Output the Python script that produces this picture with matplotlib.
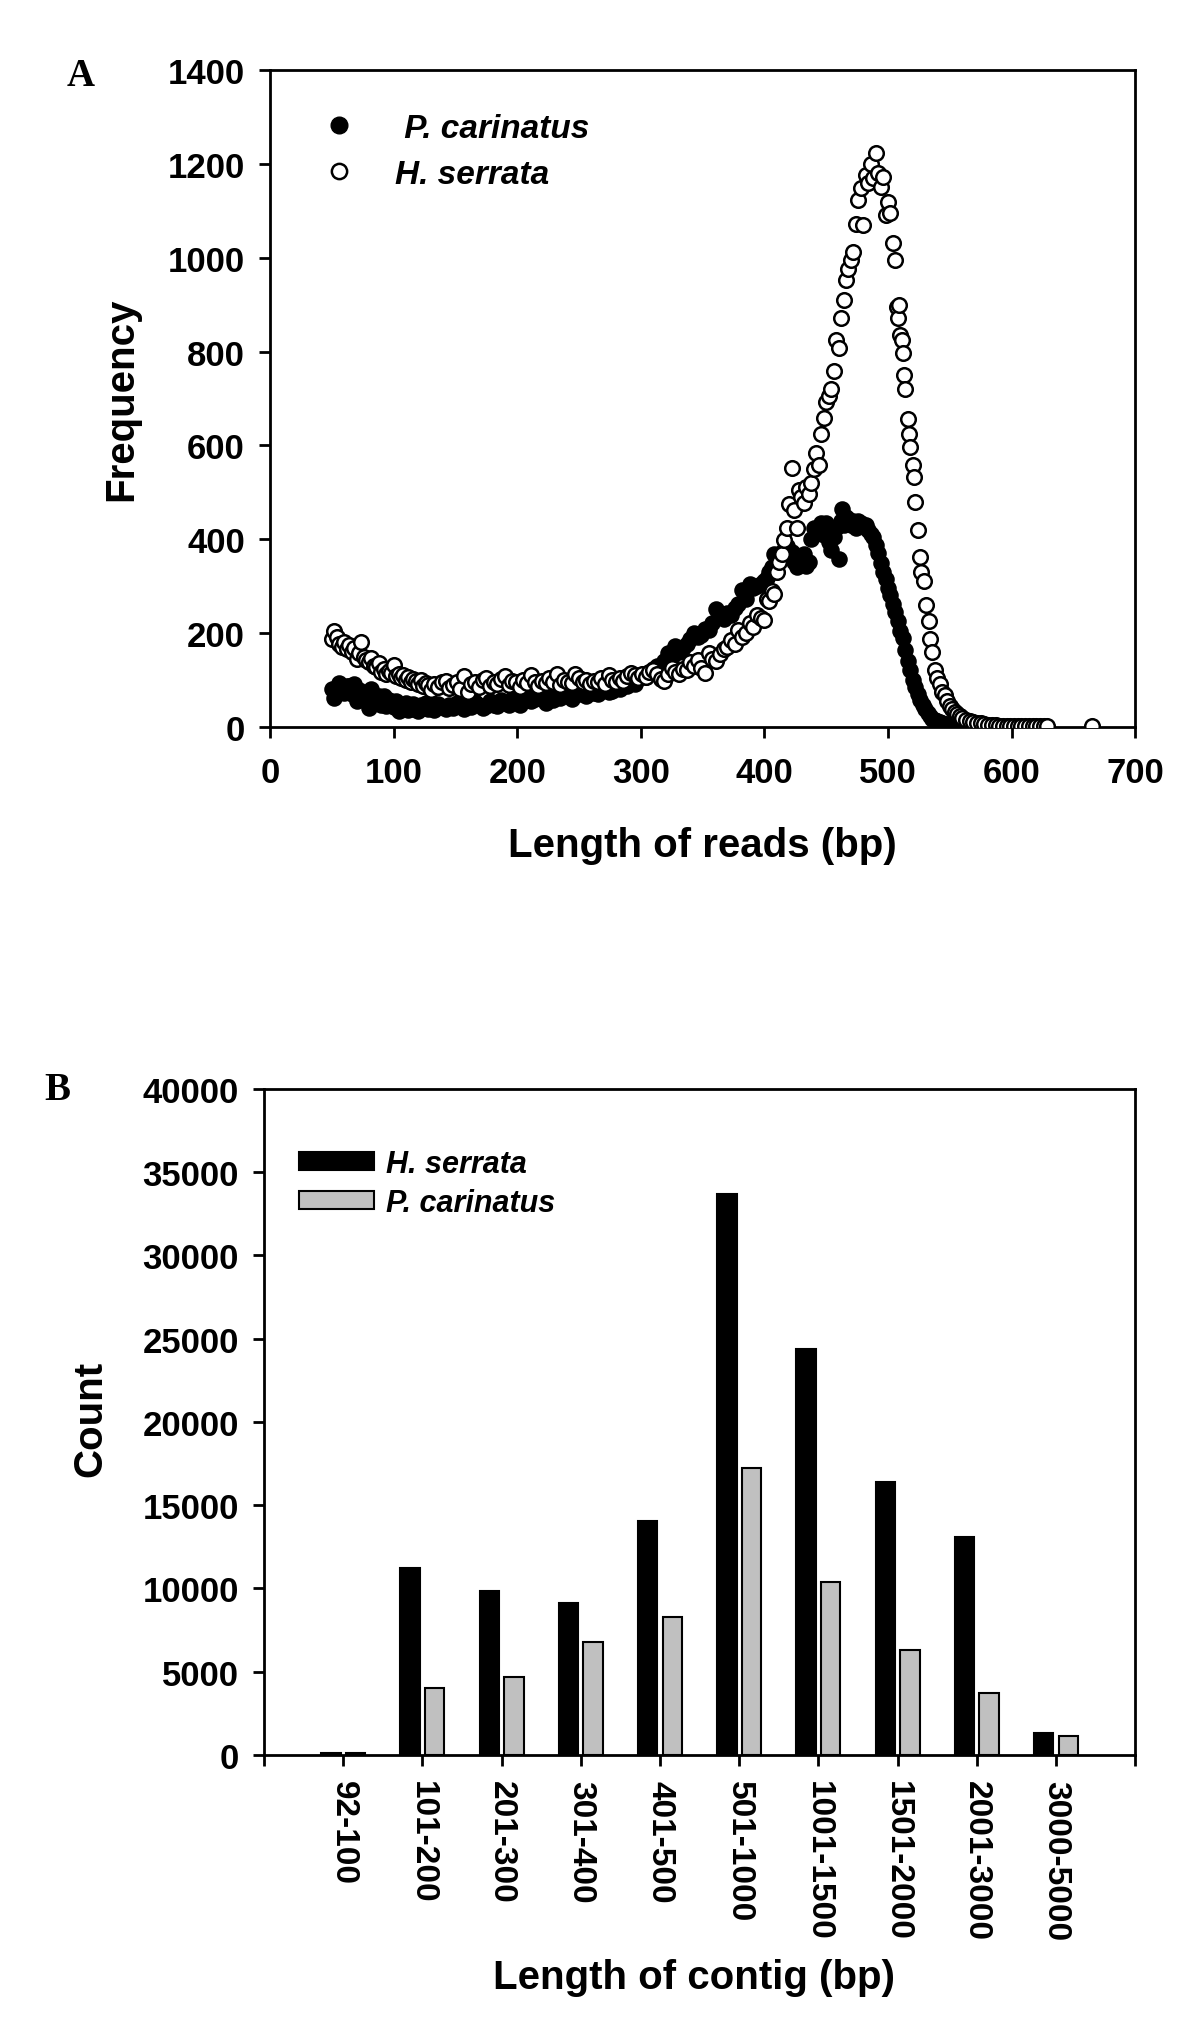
import matplotlib
matplotlib.use('Agg')
import matplotlib.pyplot as plt
from matplotlib.lines import Line2D
from matplotlib.patches import Patch

plt.rcParams['font.family'] = ['Liberation Sans', 'DejaVu Sans']
plt.rcParams['font.weight'] = 'bold'

# ---- panel A : read length distribution ----
# H. serrata (open circles)
len_hs = [50, 52, 54, 56, 58, 60, 62, 64, 66, 68, 70, 72, 74, 76, 78, 80, 82, 84, 86, 88,
          90, 92, 94, 96, 98, 100, 102, 104, 106, 108, 110, 112, 114, 116, 118, 120, 122, 124, 126, 128,
          130, 133, 136, 139, 142, 145, 148, 151, 154, 157, 160, 163, 166, 169, 172, 175, 178, 181, 184, 187,
          190, 193, 196, 199, 202, 205, 208, 211, 214, 217, 220, 223, 226, 229, 232, 235, 238, 241, 244, 247,
          250, 253, 256, 259, 262, 265, 268, 271, 274, 277, 280, 283, 286, 289, 292, 295, 298, 301, 304, 307,
          310, 313, 316, 319, 322, 325, 328, 331, 334, 337, 340, 343, 346, 349, 352, 355, 358, 361, 364, 367,
          370, 373, 376, 379, 382, 385, 388, 391, 394, 397,
          400, 402, 404, 406, 408, 410, 412, 414, 416, 418, 420, 422, 424, 426, 428, 430, 432, 434, 436, 438,
          440, 442, 444, 446, 448, 450, 452, 454, 456, 458, 460, 462, 464, 466, 468, 470, 472, 474, 476, 478,
          480, 482, 484, 486, 488, 490, 492, 494, 496, 498, 500, 502, 504, 506, 507, 508, 509, 510, 511, 512,
          513, 514, 516, 517, 518, 520, 521, 522, 524, 526, 527, 529, 531, 533, 534, 536, 538, 540, 542, 544,
          546, 548, 550, 552, 554, 556, 558,
          560, 563, 566, 569, 572, 575, 578, 581, 584, 587, 590, 593, 596, 599, 602, 605, 608, 611, 614, 617,
          620, 623, 626, 629, 665]
freq_hs = [187, 205, 192, 176, 170, 182, 166, 175, 160, 168, 146, 158, 181, 150, 142, 138, 148, 131, 128, 136,
           118, 124, 112, 120, 116, 132, 108, 114, 104, 110, 100, 106, 96, 103, 98, 92, 100, 88, 94, 90,
           78, 92, 86, 96, 99, 84, 90, 95, 82, 108, 75, 92, 96, 85, 100, 104, 88, 97, 92, 103,
           108, 90, 99, 95, 86, 100, 94, 110, 96, 88, 99, 93, 104, 96, 112, 90, 101, 97, 94, 114,
           104, 96, 101, 91, 98, 96, 104, 92, 110, 100, 96, 104, 99, 108, 115, 110, 104, 112, 106, 118,
           122, 112, 103, 98, 112, 126, 118, 112, 124, 121, 138, 130, 142, 125, 116, 158, 146, 141, 156, 166,
           170, 186, 178, 207, 192, 200, 221, 214, 238, 232,
           228, 272, 268, 290, 283, 330, 352, 368, 398, 425, 476, 552, 463, 425, 506, 490, 478, 512, 497, 520,
           549, 585, 558, 625, 658, 692, 705, 720, 758, 825, 808, 872, 910, 953, 977, 996, 1012, 1072, 1124, 1148,
           1070, 1177, 1160, 1199, 1170, 1224, 1180, 1150, 1172, 1091, 1118, 1096, 1032, 996, 896, 872, 900, 836, 825, 796,
           750, 720, 656, 625, 596, 558, 532, 479, 420, 363, 330, 311, 259, 225, 187, 159, 121, 105, 92, 75,
           68, 55, 45, 38, 32, 28, 24,
           20, 16, 13, 11, 9, 8, 6, 5, 5, 4, 3, 3, 3, 2, 2, 2, 2, 2, 2, 2,
           2, 2, 2, 2, 2]

# P. carinatus (filled circles)
len_pc = [50, 52, 54, 56, 58, 60, 62, 64, 66, 68, 70, 72, 74, 76, 78, 80, 82, 84, 86, 88,
          90, 92, 94, 96, 98, 100, 102, 104, 106, 108, 110, 112, 114, 116, 118, 120, 122, 124, 126, 128,
          130, 133, 136, 139, 142, 145, 148, 151, 154, 157, 160, 163, 166, 169, 172, 175, 178, 181, 184, 187,
          190, 193, 196, 199, 202, 205, 208, 211, 214, 217, 220, 223, 226, 229, 232, 235, 238, 241, 244, 247,
          250, 253, 256, 259, 262, 265, 268, 271, 274, 277, 280, 283, 286, 289, 292, 295, 298, 301, 304, 307,
          310, 313, 316, 319, 322, 325, 328, 331, 334, 337, 340, 343, 346, 349, 352, 355, 358, 361, 364, 367,
          370, 373, 376, 379, 382, 385, 388, 391, 394, 397,
          400, 402, 404, 406, 408, 410, 412, 414, 416, 418, 420, 422, 424, 426, 428, 430, 432, 434, 436, 438,
          440, 442, 444, 446, 448, 450, 452, 454, 456, 458, 460, 462, 463, 464, 466, 468, 470, 472, 474, 476,
          478, 480, 482, 484, 486, 488, 490, 492, 494, 496, 498, 500, 502, 504, 506, 508, 510, 512, 514, 516,
          518, 520, 522, 524, 526, 528, 530, 532, 534, 536, 538, 540, 542, 544, 546, 548, 550, 552, 554, 556,
          558, 561, 564, 567, 570, 573, 576, 579, 582, 585, 588, 591, 594, 597, 600]
freq_pc = [80, 62, 76, 94, 85, 72, 88, 87, 70, 91, 55, 78, 64, 58, 70, 41, 80, 60, 52, 66,
           48, 66, 45, 58, 50, 42, 55, 34, 48, 40, 52, 36, 38, 50, 42, 35, 46, 40, 52, 38,
           44, 36, 50, 42, 38, 47, 40, 52, 44, 38, 48, 42, 54, 46, 40, 45, 56, 48, 44, 58,
           52, 46, 60, 54, 48, 59, 64, 55, 60, 66, 59, 52, 63, 58, 68, 62, 72, 66, 60, 74,
           70, 73, 66, 78, 72, 70, 76, 82, 74, 77, 84, 80, 90, 87, 96, 92, 102, 109, 106, 114,
           123, 130, 126, 140, 158, 149, 173, 159, 168, 176, 188, 201, 192, 197, 208, 206, 222, 251, 244, 230,
           244, 238, 254, 262, 293, 273, 304, 297, 300, 305,
           311, 318, 330, 340, 368, 349, 360, 372, 368, 385, 368, 372, 352, 340, 350, 359, 368, 344, 352, 400,
           425, 412, 420, 435, 410, 435, 395, 378, 405, 425, 359, 440, 465, 430, 448, 444, 430, 440, 425, 439,
           435, 428, 430, 420, 411, 405, 387, 370, 350, 330, 315, 297, 282, 263, 245, 225, 205, 190, 165, 140,
           121, 100, 85, 70, 58, 48, 38, 30, 24, 18, 15, 12, 10, 8, 7, 6, 5, 5, 4, 4,
           3, 3, 3, 2, 2, 2, 2, 2, 2, 1, 1, 1, 1, 1, 1]

# ---- panel B : contig length distribution ----
contig_bins = ['92-100', '101-200', '201-300', '301-400', '401-500', '501-1000',
               '1001-1500', '1501-2000', '2001-3000', '3000-5000']
count_hs = [130, 11250, 9840, 9120, 14050, 33700, 24370, 16380, 13100, 1320]
count_pc = [110, 4020, 4670, 6760, 8260, 17210, 10380, 6290, 3720, 1160]

fig = plt.figure(figsize=(12, 20.24), dpi=100)

# ================= A =================
axA = fig.add_axes([0.225, 0.6403, 0.721, 0.3246])
axA.scatter(len_pc, freq_pc, s=115, c='black', edgecolors='black', linewidths=1.2, zorder=2)
axA.scatter(len_hs, freq_hs, s=110, facecolors='white', edgecolors='black', linewidths=1.8, zorder=3)
axA.set_xlim(0, 700)
axA.set_ylim(0, 1400)
axA.set_xticks(range(0, 701, 100))
axA.set_yticks(range(0, 1401, 200))
axA.tick_params(direction='out', length=8, width=2, labelsize=25, pad=10)
axA.tick_params(axis='x', pad=13)
for sp in axA.spines.values():
    sp.set_linewidth(2)
axA.set_xlabel('Length of reads (bp)', fontsize=29, fontweight='bold')
axA.set_ylabel('Frequency', fontsize=29, fontweight='bold')
axA.xaxis.set_label_coords(0.5, -0.15)
axA.yaxis.set_label_coords(-0.15, 0.5)

legA = [Line2D([], [], marker='o', ls='none', ms=12, mfc='black', mec='black'),
        Line2D([], [], marker='o', ls='none', ms=11, mfc='white', mec='black', mew=1.8)]
axA.legend(legA, [' P. carinatus', 'H. serrata'], loc='upper left', bbox_to_anchor=(0.06, 0.935),
           frameon=False, handlelength=1.0, handletextpad=1.2, labelspacing=0.45,
           borderpad=0, borderaxespad=0,
           prop={'family': 'Liberation Sans', 'weight': 'bold', 'style': 'italic', 'size': 24})

fig.text(81 / 1200, 1 - 77 / 2024, 'A', family='Liberation Serif', fontweight='bold',
         fontsize=28, ha='center', va='center')

# ================= B =================
axB = fig.add_axes([0.22, 0.1324, 0.726, 0.3291])
pos = list(range(len(contig_bins)))
axB.bar([p - 0.155 for p in pos], count_hs, width=0.245, color='black', edgecolor='black', linewidth=1.5)
axB.bar([p + 0.155 for p in pos], count_pc, width=0.245, color='#c0c0c0', edgecolor='black', linewidth=1.5)
axB.set_xlim(-1, 10)
axB.set_ylim(0, 40000)
axB.set_yticks(range(0, 40001, 5000))
axB.set_xticks(range(-1, 11))
axB.set_xticklabels([''] + contig_bins + [''], rotation=-90, va='top')
axB.tick_params(direction='out', length=8, width=2, labelsize=25, pad=10)
axB.tick_params(axis='x', labelsize=24)
for sp in axB.spines.values():
    sp.set_linewidth(2)
axB.set_xlabel('Length of contig (bp)', fontsize=29, fontweight='bold')
axB.set_ylabel('Count', fontsize=29, fontweight='bold')
axB.xaxis.set_label_coords(0.494, -0.305)
axB.yaxis.set_label_coords(-0.178, 0.506)

legB = [Patch(facecolor='black', edgecolor='black', linewidth=1.5),
        Patch(facecolor='#c0c0c0', edgecolor='black', linewidth=1.5)]
axB.legend(legB, ['H. serrata', 'P. carinatus'], loc='upper left', bbox_to_anchor=(0.04, 0.91),
           frameon=False, handlelength=2.45, handleheight=0.55, handletextpad=0.4, labelspacing=0.3,
           borderpad=0, borderaxespad=0,
           prop={'family': 'Liberation Sans', 'weight': 'bold', 'style': 'italic', 'size': 22})

fig.text(57 / 1200, 1 - 1090 / 2024, 'B', family='Liberation Serif', fontweight='bold',
         fontsize=28, ha='center', va='center')

fig.savefig('out.png', dpi=100, facecolor='white')
